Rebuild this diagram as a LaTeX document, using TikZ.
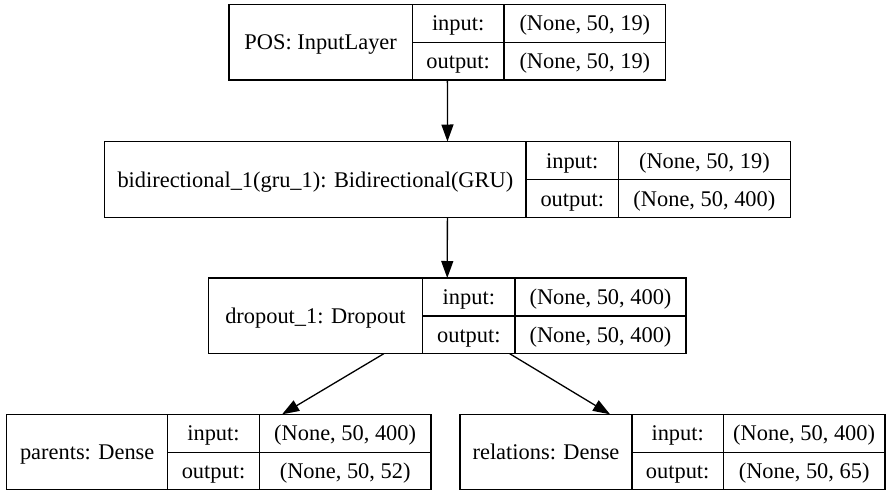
\documentclass[tikz,border=0pt]{standalone}
\usepackage{fontspec}
\setmainfont{LiberationSerif}[Extension=.ttf, UprightFont=*-Regular,
  BoldFont=*-Bold, ItalicFont=*-Italic, BoldItalicFont=*-BoldItalic]
\usetikzlibrary{arrows.meta}

% height of every layer record
\def\recH{75.7}

\tikzset{
  rec/.style={draw, line width=1.3pt, inner sep=0pt, outer sep=0pt},
  sep/.style={line width=1.3pt},
  txt/.style={inner sep=0pt, text height=15.5pt, text depth=0pt,
              font=\rmfamily\fontsize{22.4}{26}\selectfont},
  arr/.style={line width=1.3pt, -{Triangle[length=17pt,width=12pt]}},
}

% #1 name, #2 left, #3 first divider, #4 second divider, #5 right,
% #6 top, #7 layer label, #8 input shape, #9 output shape
\newcommand\layerrec[9]{%
  \node[rec, minimum width={#5-#2}, minimum height={\recH}] (#1)
    at ({(#2+#5)/2},{#6+\recH/2}) {};
  \draw[sep] ({#3},{#6}) -- ({#3},{#6+\recH});
  \draw[sep] ({#4},{#6}) -- ({#4},{#6+\recH});
  \draw[sep] ({#3},{#6+\recH/2}) -- ({#5},{#6+\recH/2});
  \node[txt] (#1-name) at ({(#2+#3)/2},{#6+\recH/2}) {#7};
  \node[txt] (#1-inl)  at ({(#3+#4)/2},{#6+\recH/4}) {input:};
  \node[txt] (#1-outl) at ({(#3+#4)/2},{#6+3*\recH/4}) {output:};
  \node[txt] (#1-inv)  at ({(#4+#5)/2},{#6+\recH/4}) {#8};
  \node[txt] (#1-outv) at ({(#4+#5)/2},{#6+3*\recH/4}) {#9};
}

\begin{document}
\begin{tikzpicture}[x=1pt, y=-1pt]
  \useasboundingbox[fill=white] (0,0) rectangle (886,490);
  \clip (0,0) rectangle (886,489.5);

  \layerrec{pos}{229}{412.3}{504}{665.7}{4.3}
    {POS: InputLayer}{(None, 50, 19)}{(None, 50, 19)}
  \layerrec{bidir}{104.7}{526}{618.5}{790.3}{141.5}
    {bidirectional\_1(gru\_1): Bidirectional(GRU)}{(None, 50, 19)}{(None, 50, 400)}
  \layerrec{drop}{208.3}{422.7}{515}{686}{278}
    {dropout\_1: Dropout}{(None, 50, 400)}{(None, 50, 400)}
  \layerrec{parents}{6.7}{167.7}{259.3}{431}{414.3}
    {parents: Dense}{(None, 50, 400)}{(None, 50, 52)}
  \layerrec{rel}{460}{632}{723.3}{885}{414.3}
    {relations: Dense}{(None, 50, 400)}{(None, 50, 65)}

  \draw[arr] (pos) -- (bidir);
  \draw[arr] (bidir) -- (drop);
  \draw[arr] (drop) -- (parents);
  \draw[arr] (drop) -- (rel);
\end{tikzpicture}
\end{document}
